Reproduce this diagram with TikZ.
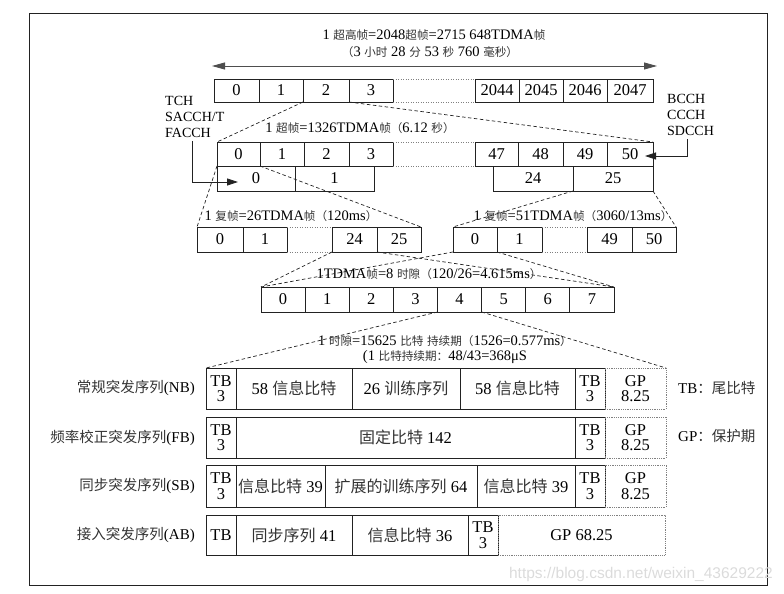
\documentclass[tikz,border=0pt]{standalone}
\usepackage{fontspec}
\setmainfont{Liberation Serif}
\newfontfamily\cjk{Noto Sans CJK SC}
\newfontfamily\wmfont{Liberation Sans}
\usetikzlibrary{arrows.meta}
\definecolor{ink}{HTML}{222222}
\definecolor{zhc}{HTML}{333333}
\def\zhsz{12}
\newcommand\zh[1]{{\fontsize{\zhsz pt}{\zhsz pt}\selectfont\cjk\color{zhc}#1}}
\newcommand\cellat[7][cellbox]{\node[#1, minimum width={(#5)-(#3)}, minimum height={(#6)-(#4)}, anchor=north west] (#2) at (#3,#4) {#7};}
\tikzset{
  cellbox/.style={draw=ink, line width=0.8pt, inner sep=0pt, outer sep=0pt, align=center,
    font={\def\zhsz{16}\fontsize{16.5}{15.5}\selectfont}},
  gpbox/.style={cellbox, draw=gray, densely dotted, line width=0.7pt},
  ttl/.style={inner sep=0pt, font={\def\zhsz{11.6}\fontsize{14.5}{16}\selectfont}},
  lbl/.style={inner sep=0pt, font={\def\zhsz{14.5}\fontsize{15}{16}\selectfont}},
  chl/.style={inner sep=0pt, align=left, font=\fontsize{14}{16}\selectfont},
  zoomline/.style={draw=ink, line width=0.7pt, dash pattern=on 3.5pt off 2.5pt},
  gapline/.style={draw=gray, line width=0.7pt, dash pattern=on 1pt off 1.5pt},
  ptr/.style={draw=ink, line width=0.8pt, -{Triangle[length=11pt,width=7pt]}},
  dbl/.style={draw=ink!80, line width=0.8pt, {Triangle[length=13pt,width=7pt]}-{Triangle[length=13pt,width=7pt]}},
  frame/.style={draw=ink, line width=1pt},
  wm/.style={inner sep=0pt, text=gray!28, font=\wmfont\fontsize{15.5}{16}\selectfont}
}
\begin{document}
\begin{tikzpicture}[x=1pt,y=-1pt]
\useasboundingbox (0,0) rectangle (784,594);
\draw[frame] (29,14) rectangle (767,585);

% hyperframe
\node[ttl] (t1) at (434,35) {1 \zh{超高帧}=2048\zh{超帧}=2715 648TDMA\zh{帧}};
\node[ttl] (t2) at (430,52) {\zh{（}3 \zh{小时} 28 \zh{分} 53 \zh{秒} 760 \zh{毫秒）}};
\coordinate (arL) at (212,66);
\coordinate (arR) at (657,66);
\draw[dbl] (arL) -- (arR);
\cellat{hf0}{214}{79}{259}{102}{0}
\cellat{hf1}{259}{79}{303}{102}{1}
\cellat{hf2}{303}{79}{349}{102}{2}
\cellat{hf3}{349}{79}{393}{102}{3}
\cellat{hf2044}{475}{79}{519}{102}{2044}
\cellat{hf2045}{519}{79}{563}{102}{2045}
\cellat{hf2046}{563}{79}{607}{102}{2046}
\cellat{hf2047}{607}{79}{653}{102}{2047}
\draw[gapline] (hf3.north east) -- (hf2044.north west);
\draw[gapline] (hf3.south east) -- (hf2044.south west);

% superframe
\node[ttl] (t3) at (360,128) {1 \zh{超帧}=1326TDMA\zh{帧（}6.12 \zh{秒）}};
\cellat{sfu0}{217}{142}{260}{166}{0}
\cellat{sfu1}{260}{142}{304}{166}{1}
\cellat{sfu2}{304}{142}{349}{166}{2}
\cellat{sfu3}{349}{142}{393}{166}{3}
\cellat{sfu47}{475}{142}{518}{166}{47}
\cellat{sfu48}{518}{142}{563}{166}{48}
\cellat{sfu49}{563}{142}{607}{166}{49}
\cellat{sfu50}{607}{142}{653}{166}{50}
\cellat{sfl0}{217}{166}{295}{191}{0}
\cellat{sfl1}{295}{166}{374}{191}{1}
\cellat{sfl24}{493}{166}{573}{191}{24}
\cellat{sfl25}{573}{166}{653}{191}{25}
\draw[gapline] (sfu3.north east) -- (sfu47.north west);
\draw[gapline] (sfu3.south east) -- (sfu47.south west);
\draw[zoomline] (hf2.south west) -- (sfu0.north west);
\draw[zoomline] (hf2.south east) -- (sfu50.north east);

% channel labels
\node[chl, anchor=west] (tch) at (165,117) {TCH\\SACCH/T\\FACCH};
\node[chl, anchor=west] (bcch) at (667,115) {BCCH\\CCCH\\SDCCH};
\coordinate (tchE) at (238,182);
\coordinate (bcE) at (645,156);
\draw[ptr] ([xshift=-2pt,yshift=-3pt]tch.south) |- (tchE);
\draw[ptr] ([xshift=-3pt,yshift=-3pt]bcch.south) |- (bcE);

% multiframes
\node[ttl] (t4) at (291,216) {1 \zh{复帧}=26TDMA\zh{帧（}120ms\zh{）}};
\node[ttl] (t5) at (573,216) {1 \zh{复帧}=51TDMA\zh{帧（}3060/13ms\zh{）}};
\cellat{mfa0}{197}{227}{243}{252}{0}
\cellat{mfa1}{243}{227}{287}{252}{1}
\cellat{mfa24}{332}{227}{377}{252}{24}
\cellat{mfa25}{377}{227}{421}{252}{25}
\cellat{mfb0}{453}{227}{497}{252}{0}
\cellat{mfb1}{497}{227}{542}{252}{1}
\cellat{mfb49}{587}{227}{632}{252}{49}
\cellat{mfb50}{632}{227}{676}{252}{50}
\draw[gapline] (mfa1.north east) -- (mfa24.north west);
\draw[gapline] (mfa1.south east) -- (mfa24.south west);
\draw[gapline] (mfb1.north east) -- (mfb49.north west);
\draw[gapline] (mfb1.south east) -- (mfb49.south west);
\draw[zoomline] (sfu0.south west) -- (mfa0.north west);
\draw[zoomline] (sfu0.south east) -- (mfa25.north east);
\draw[zoomline] (sfl25.south west) -- (mfb0.north west);
\draw[zoomline] (sfl25.south east) -- (mfb50.north east);

% TDMA frame
\node[ttl] (t6) at (429,274) {1TDMA\zh{帧}=8 \zh{时隙（}120/26=4.615ms\zh{）}};
\foreach \i in {0,...,7}{
  \pgfmathsetmacro\xa{261+44.125*\i}
  \pgfmathsetmacro\xb{261+44.125*(\i+1)}
  \cellat{ts\i}{\xa}{287}{\xb}{312}{\i}
}
\draw[zoomline] (mfa24.south west) -- (ts0.north west);
\draw[zoomline] (mfa24.south east) -- (ts7.north east);
\draw[zoomline] (mfb0.south west) -- (ts0.north west);
\draw[zoomline] (mfb0.south east) -- (ts7.north east);

% time slot
\node[ttl] (t7) at (445,341) {1 \zh{时隙}=15625 \zh{比特} \zh{持续期（}1526=0.577ms\zh{）}};
\node[ttl] (t8) at (445,357) {(1 \zh{比特持续期：}48/43=368μS};

% bursts
\cellat{nb1}{206}{368}{236}{409}{TB\\3}
\cellat{nb2}{236}{368}{352}{409}{58 \zh{信息比特}}
\cellat{nb3}{352}{368}{460}{409}{26 \zh{训练序列}}
\cellat{nb4}{460}{368}{575}{409}{58 \zh{信息比特}}
\cellat{nb5}{575}{368}{605}{409}{TB\\3}
\cellat[gpbox]{nbgp}{605}{368}{666}{409}{GP\\8.25}

\cellat{fb1}{206}{417}{236}{458}{TB\\3}
\cellat{fb2}{236}{417}{575}{458}{\zh{固定比特} 142}
\cellat{fb3}{575}{417}{605}{458}{TB\\3}
\cellat[gpbox]{fbgp}{605}{417}{666}{458}{GP\\8.25}

\cellat{sb1}{206}{465}{236}{507}{TB\\3}
\cellat{sb2}{236}{465}{325}{507}{\zh{信息比特} 39}
\cellat{sb3}{325}{465}{477}{507}{\zh{扩展的训练序列} 64}
\cellat{sb4}{477}{465}{575}{507}{\zh{信息比特} 39}
\cellat{sb5}{575}{465}{605}{507}{TB\\3}
\cellat[gpbox]{sbgp}{605}{465}{666}{507}{GP\\8.25}

\cellat{ab1}{206}{515}{236}{555}{TB}
\cellat{ab2}{236}{515}{352}{555}{\zh{同步序列} 41}
\cellat{ab3}{352}{515}{468}{555}{\zh{信息比特} 36}
\cellat{ab4}{468}{515}{498}{555}{TB\\3}
\cellat[gpbox]{abgp}{498}{515}{665}{555}{GP 68.25}

\draw[zoomline] (ts4.south west) -- (nb1.north west);
\draw[zoomline] (ts4.south east) -- (nbgp.north east);

% row labels
\node[lbl, anchor=east] (lnb) at (195,388) {\zh{常规突发序列}(NB)};
\node[lbl, anchor=east] (lfb) at (195,438) {\zh{频率校正突发序列}(FB)};
\node[lbl, anchor=east] (lsb) at (195,486) {\zh{同步突发序列}(SB)};
\node[lbl, anchor=east] (lab) at (195,535) {\zh{接入突发序列}(AB)};
\node[lbl, anchor=west] (ltb) at (678,388) {TB\zh{：尾比特}};
\node[lbl, anchor=west] (lgp) at (678,436) {GP\zh{：保护期}};

\node[wm, anchor=east] (wmk) at (773,574) {https://blog.csdn.net/weixin\_43629222};
\end{tikzpicture}
\end{document}
